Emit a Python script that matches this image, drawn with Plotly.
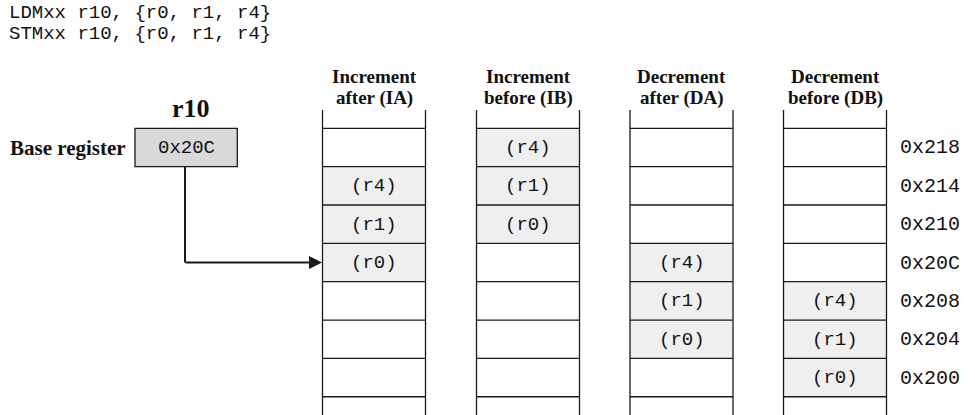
import plotly.graph_objects as go

# ---- data ----
instructions = ["LDMxx r10, {r0, r1, r4}", "STMxx r10, {r0, r1, r4}"]
mode_line1 = ["Increment", "Increment", "Decrement", "Decrement"]
mode_line2 = ["after (IA)", "before (IB)", "after (DA)", "before (DB)"]
addresses = ["0x218", "0x214", "0x210", "0x20C", "0x208", "0x204", "0x200"]
ia_cells = ["", "(r4)", "(r1)", "(r0)", "", "", ""]
ib_cells = ["(r4)", "(r1)", "(r0)", "", "", "", ""]
da_cells = ["", "", "", "(r4)", "(r1)", "(r0)", ""]
db_cells = ["", "", "", "", "(r4)", "(r1)", "(r0)"]
register_name = "r10"
register_label = "Base register"
register_value = "0x20C"

# ---- layout geometry (pixel-like coordinates on the page) ----
W, H = 975, 415
col_left = [322.5, 476.5, 630.0, 783.5]
col_w = 103.0
row_top0 = 128.3
row_h = 38.35
col_top = 110.0
col_bottom = 420.0
line_col = "#1a1a1a"
cell_fill = "#efefef"
box_fill = "#d9d9d9"
mono = "Liberation Mono, Courier New, monospace"
serif = "Liberation Serif, Times New Roman, serif"
MONO_SIZE = 19
HEAD_SIZE = 19
txt_col = "#111"

fig = go.Figure()
shapes = []
annotations = []


def label(x, y, text, family, size, xanchor="center"):
    annotations.append(dict(x=x, y=y, xref="x", yref="y", text=text, showarrow=False,
                            xanchor=xanchor, borderpad=0,
                            font=dict(family=family, size=size, color=txt_col)))


columns = [ia_cells, ib_cells, da_cells, db_cells]
for ci, cells in enumerate(columns):
    x0 = col_left[ci]
    x1 = x0 + col_w
    for ri, txt in enumerate(cells):
        y0 = row_top0 + ri * row_h
        y1 = y0 + row_h
        if txt:
            shapes.append(dict(type="rect", xref="x", yref="y", x0=x0, x1=x1, y0=y0, y1=y1,
                               fillcolor=cell_fill, line=dict(width=0), layer="below"))
            label((x0 + x1) / 2, (y0 + y1) / 2 + 0.5, txt, mono, MONO_SIZE)
    for ri in range(len(cells) + 1):
        y = row_top0 + ri * row_h
        shapes.append(dict(type="line", xref="x", yref="y", x0=x0, x1=x1, y0=y, y1=y,
                           line=dict(color=line_col, width=1.3)))
    for x in (x0, x1):
        shapes.append(dict(type="line", xref="x", yref="y", x0=x, x1=x, y0=col_top, y1=col_bottom,
                           line=dict(color=line_col, width=1.3)))
    label((x0 + x1) / 2, 76, f"<b>{mode_line1[ci]}</b>", serif, HEAD_SIZE)
    label((x0 + x1) / 2, 97.5, f"<b>{mode_line2[ci]}</b>", serif, HEAD_SIZE)

for ri, a in enumerate(addresses):
    y = row_top0 + ri * row_h + row_h / 2 + 0.5
    label(899, y, a, mono, MONO_SIZE + 1, xanchor="left")

for i, s in enumerate(instructions):
    label(8, 13 + i * 21, s, mono, MONO_SIZE, xanchor="left")

bx0, bx1 = 135.0, 237.3
by0, by1 = row_top0, row_top0 + row_h
shapes.append(dict(type="rect", xref="x", yref="y", x0=bx0, x1=bx1, y0=by0, y1=by1,
                   fillcolor=box_fill, line=dict(color=line_col, width=1.3)))
label((bx0 + bx1) / 2, (by0 + by1) / 2 + 0.5, register_value, mono, MONO_SIZE)
label(191, 108, f"<b>{register_name}</b>", serif, 26)
label(127, (by0 + by1) / 2 + 1, f"<b>{register_label}</b>", serif, 21, xanchor="right")

target_row = addresses.index(register_value)
ay = row_top0 + target_row * row_h + row_h / 2
ax = 185.0
shapes.append(dict(type="line", xref="x", yref="y", x0=ax, x1=ax, y0=by1, y1=ay,
                   line=dict(color=line_col, width=2)))
annotations.append(dict(x=col_left[0] - 0.5, y=ay, ax=ax - 1, ay=ay, xref="x", yref="y",
                        axref="x", ayref="y", text="", showarrow=True, arrowhead=2,
                        arrowsize=1.3, arrowwidth=2, arrowcolor=line_col, standoff=0))

fig.update_layout(
    width=W, height=H,
    margin=dict(l=0, r=0, t=0, b=0),
    paper_bgcolor="white", plot_bgcolor="white",
    xaxis=dict(range=[0, W], visible=False, fixedrange=True),
    yaxis=dict(range=[H, 0], visible=False, fixedrange=True),
    shapes=shapes, annotations=annotations, showlegend=False,
)

# remove the default page margin so the figure fills the window exactly
fig.write_html("out.html", config={"displayModeBar": False, "staticPlot": True},
               post_script="document.body.style.margin='0';document.body.style.overflow='hidden';")
